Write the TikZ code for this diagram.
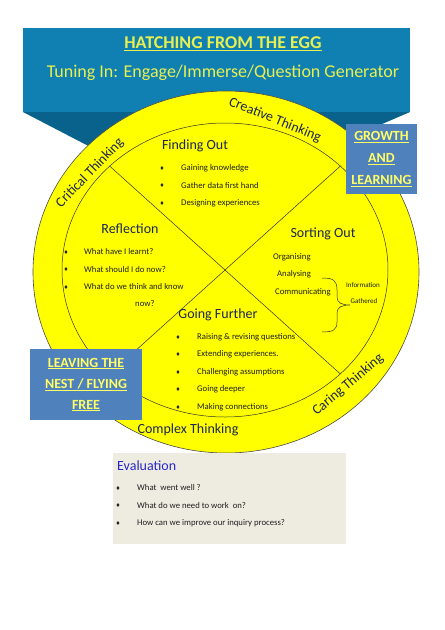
\documentclass[tikz,border=0pt]{standalone}
\usepackage{fontspec}
\setmainfont{Carlito}
\newfontfamily\symfont{DejaVu Sans}
\definecolor{banner}{RGB}{16,128,178}
\definecolor{bannerdark}{RGB}{8,98,140}
\definecolor{bannertext}{RGB}{232,240,80}
\definecolor{boxblue}{RGB}{79,129,189}
\definecolor{boxtext}{RGB}{255,255,102}
\definecolor{titlec}{RGB}{28,38,84}
\definecolor{itemc}{RGB}{30,30,30}
\definecolor{evalbg}{RGB}{238,236,225}
\definecolor{evalc}{RGB}{40,40,200}
\definecolor{eggc}{RGB}{255,255,0}
\tikzset{
  itemtxt/.style={anchor=west, inner sep=0pt, text=itemc, font=\fontsize{8.7}{10}\selectfont},
  bul/.style={inner sep=0pt, text=itemc, font=\symfont\fontsize{5.5}{6}\selectfont},
  ttl/.style={inner sep=0pt, text=titlec, font=\fontsize{14}{16}\selectfont},
  arclabel/.style={inner sep=0pt, text=titlec, font=\fontsize{14}{16}\selectfont},
  bluebox/.style={fill=boxblue, text=boxtext, align=center, inner sep=0pt,
    font=\bfseries\fontsize{14}{22}\selectfont},
  thin line/.style={draw=black!80, line width=0.5pt}
}
\begin{document}
\begin{tikzpicture}[x=1pt,y=-1pt]
\useasboundingbox (0,0) rectangle (445,630);
\fill[white] (0,0) rectangle (445,630);
% banner callout
\fill[bannerdark] (23,112) -- (410,112) -- (345,140) -- (100,152) -- cycle;
\fill[banner] (23,28) rectangle (410,112);
\node[inner sep=0pt, text=bannertext, font=\bfseries\fontsize{18}{20}\selectfont] (hatch) at (223,44) {\underline{HATCHING FROM THE EGG}};
\node[inner sep=0pt, text=bannertext, font=\fontsize{18}{20}\selectfont] (tuning) at (223,73) {Tuning In: Engage/Immerse/Question Generator};
% egg
\filldraw[fill=eggc, draw=black!70, line width=0.6pt] (226,272) ellipse [x radius=193, y radius=181];
\draw[thin line] (225,270) ellipse [x radius=163, y radius=147];
\coordinate (ne) at (340.3,166.1);
\coordinate (nw) at (109.7,166.1);
\coordinate (sw) at (109.7,373.9);
\coordinate (se) at (340.3,373.9);
\draw[thin line] (nw) -- (se);
\draw[thin line] (ne) -- (sw);
% arc labels
\node[arclabel, rotate=-22] (creative) at (275,120) {Creative Thinking};
\node[arclabel, rotate=46] (critical) at (90,173) {Critical Thinking};
\node[arclabel, rotate=40] (caring) at (348,385) {Caring Thinking};
\node[arclabel] (complex) at (188,430) {Complex Thinking};
% Finding Out
\node[ttl] (finding) at (195,146) {Finding Out};
\foreach \t [count=\i] in {Gaining knowledge, Gather data first hand, Designing experiences}{
  \pgfmathsetmacro{\yy}{168+17.5*(\i-1)}
  \node[bul] (fb\i) at (162,\yy) {♦};
  \node[itemtxt] (ft\i) at (181,\yy) {\t};
}
% Reflection
\node[ttl] (reflection) at (130,229) {Reflection};
\foreach \t [count=\i] in {What have I learnt?, What should I do now?, What do we think and know}{
  \pgfmathsetmacro{\yy}{252+17.5*(\i-1)}
  \node[bul] (rb\i) at (66,\yy) {♦};
  \node[itemtxt] (rt\i) at (84,\yy) {\t};
}
\node[itemtxt] (rt4) at (135,304) {now?};
% Sorting Out
\node[ttl] (sorting) at (323,234) {Sorting Out};
\node[itemtxt] (org) at (273,257) {Organising};
\node[itemtxt] (ana) at (277,274.5) {Analysing};
\node[itemtxt] (com) at (275,292) {Communicating};
\coordinate (bt) at (322,278);
\coordinate (bb) at (322,332);
\draw[thin line] (bt) .. controls (333,278) and (337,280) .. (337,290) -- (337,297)
  .. controls (337,303) and (342,305) .. (350,305)
  .. controls (342,305) and (337,307) .. (337,313) -- (337,322)
  .. controls (337,330) and (333,332) .. (bb);
\node[inner sep=0pt, text=itemc, font=\fontsize{7}{8}\selectfont] (info) at (363,285) {Information};
\node[inner sep=0pt, text=itemc, font=\fontsize{7}{8}\selectfont] (gath) at (364,301) {Gathered};
% Going Further
\node[ttl] (going) at (218,315) {Going Further};
\foreach \t [count=\i] in {Raising \& revising questions, Extending experiences., Challenging assumptions, Going deeper, Making connections}{
  \pgfmathsetmacro{\yy}{337+17.5*(\i-1)}
  \node[bul] (gb\i) at (178,\yy) {♦};
  \node[itemtxt] (gt\i) at (197,\yy) {\t};
}
% blue boxes
\node[bluebox, minimum width=71pt, minimum height=70pt] (growth) at (381.5,159)
  {\underline{GROWTH}\\\underline{AND}\\\underline{LEARNING}};
\node[bluebox, minimum width=112pt, minimum height=71pt, font=\bfseries\fontsize{14}{21}\selectfont] (leaving) at (86,384.5)
  {\underline{LEAVING THE}\\\underline{NEST / FLYING}\\\underline{FREE}};
% Evaluation
\fill[evalbg] (113,453) rectangle (346,544);
\node[inner sep=0pt, anchor=west, text=evalc, font=\fontsize{14}{16}\selectfont] (evaluation) at (117,466) {Evaluation};
\foreach \t [count=\i] in {What\ \ went well ?, What do we need to work\ \ on?, How can we improve our inquiry process?}{
  \pgfmathsetmacro{\yy}{488+17.5*(\i-1)}
  \node[bul] (eb\i) at (118,\yy) {♦};
  \node[itemtxt] (et\i) at (137,\yy) {\t};
}
\end{tikzpicture}
\end{document}
